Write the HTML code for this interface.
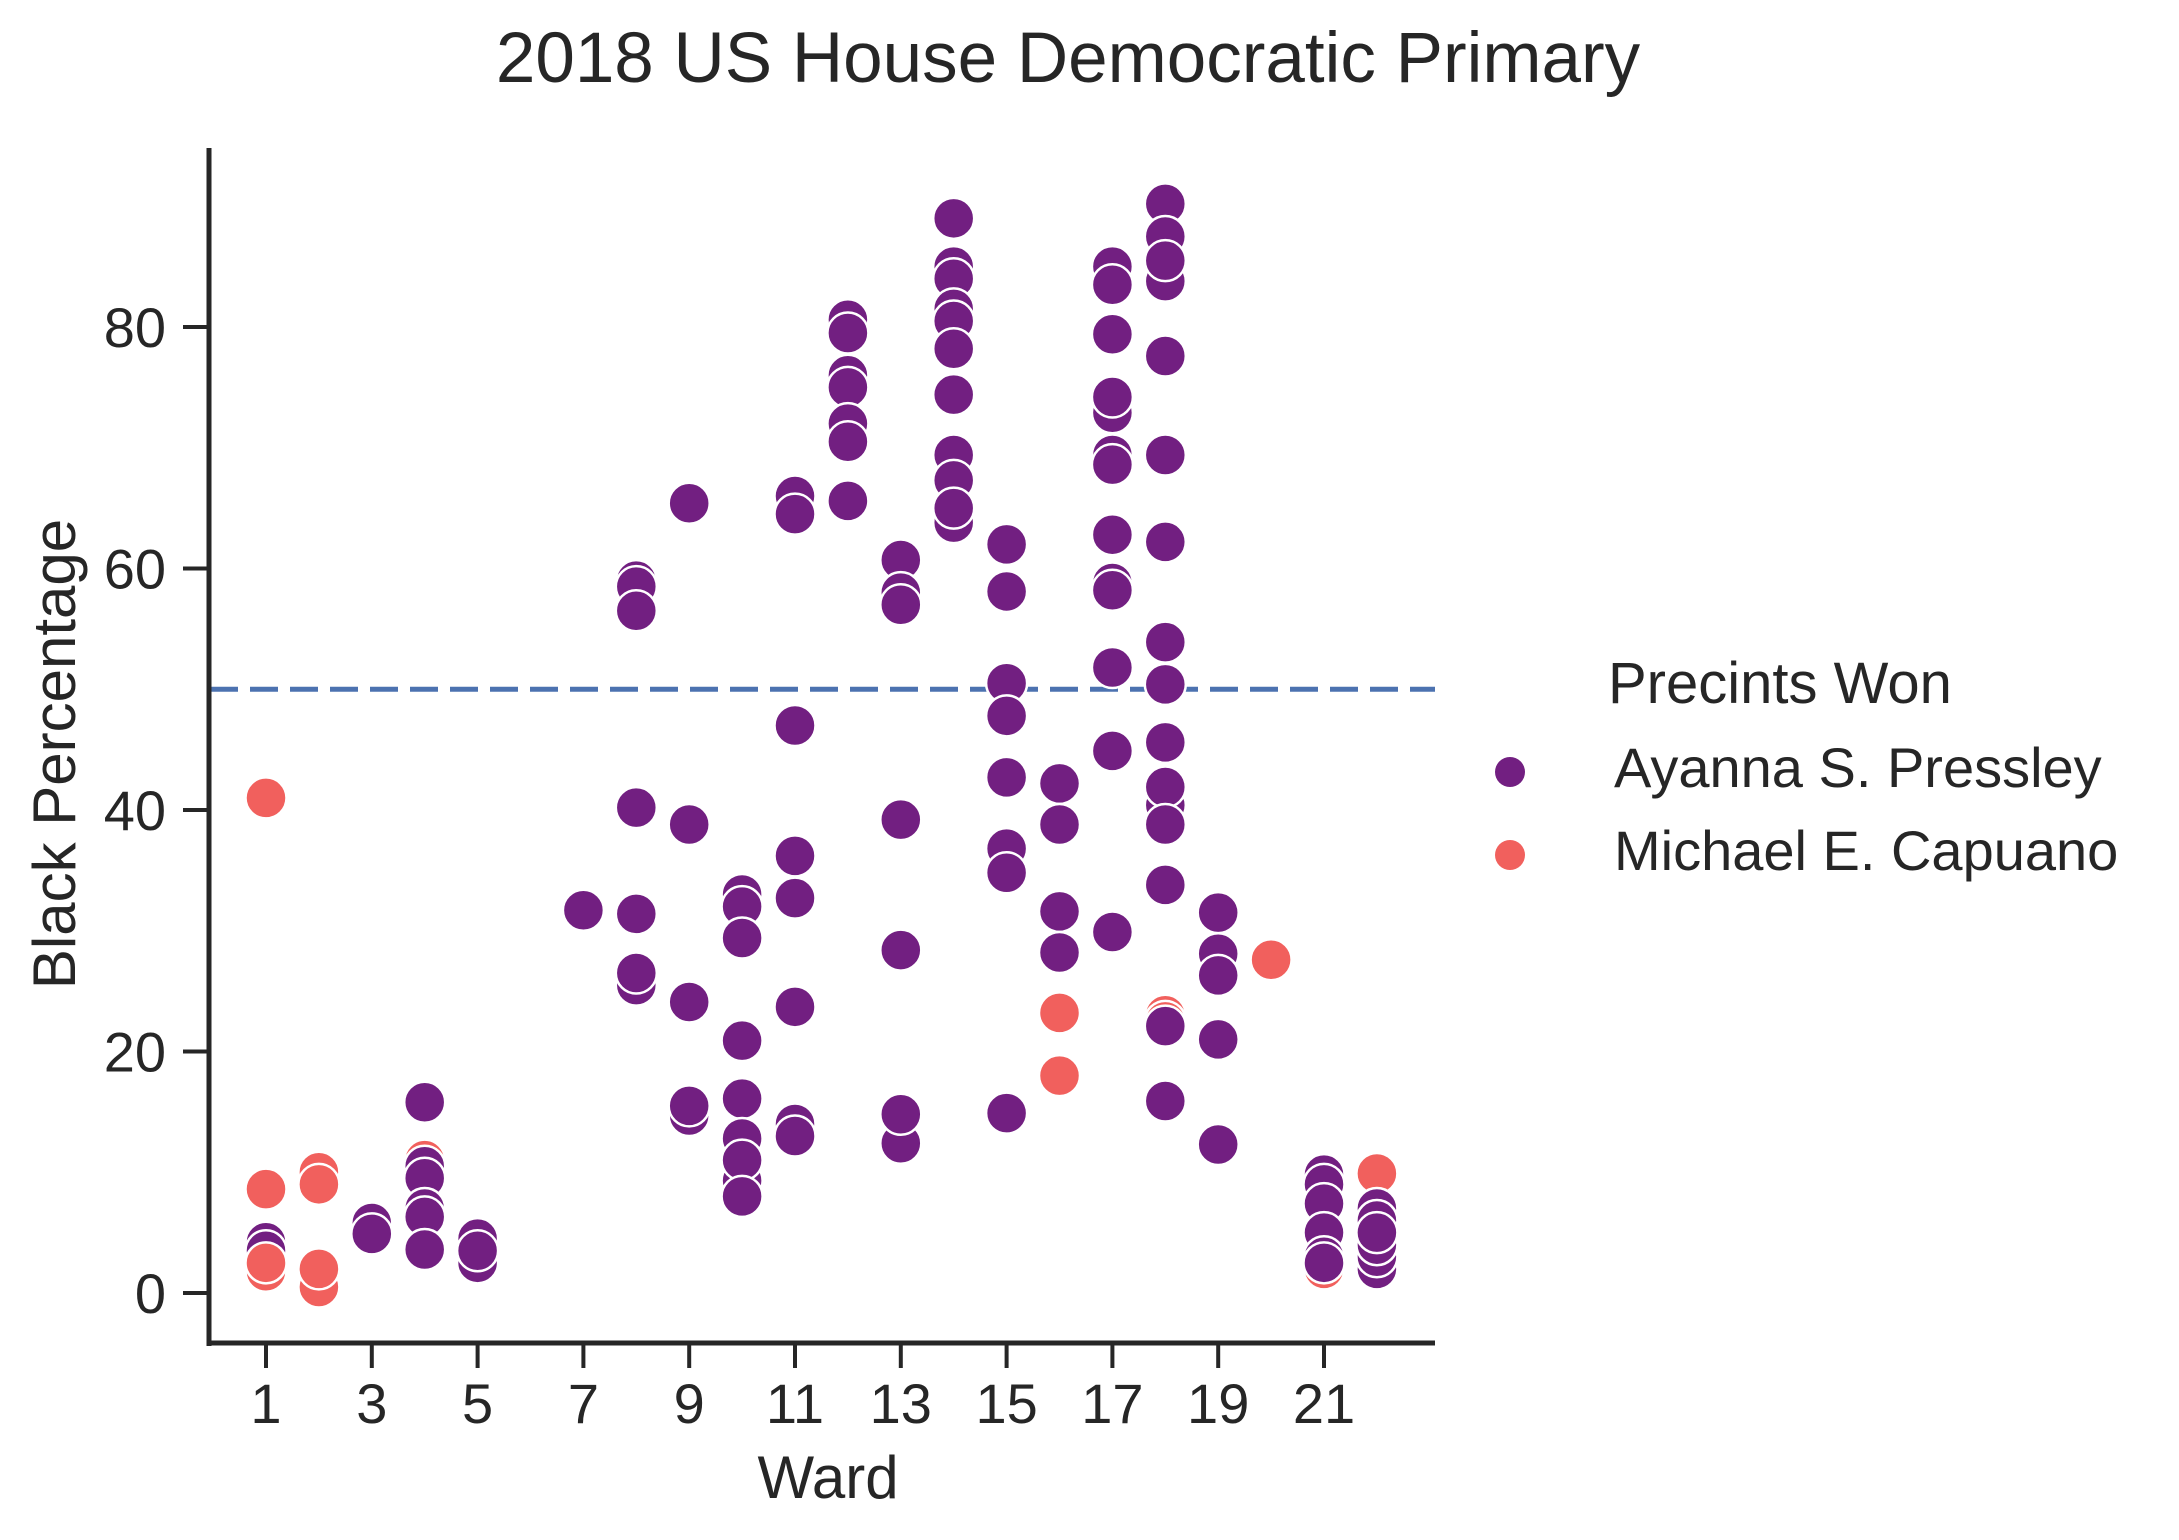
<!DOCTYPE html>
<html><head><meta charset="utf-8"><style>
html,body{margin:0;padding:0;background:#fff}
svg{display:block;font-family:"Liberation Sans",Arial,sans-serif}
</style></head><body>
<svg id="chart" width="2179" height="1540" viewBox="0 0 2179 1540">
<text x="1068" y="82" font-size="71" text-anchor="middle" fill="#262626">2018 US House Democratic Primary</text>
<g id="plot"></g>
<g id="axes"></g>
<text x="828" y="1498" font-size="60" text-anchor="middle" fill="#262626">Ward</text>
<text transform="translate(75,754) rotate(-90)" font-size="60" text-anchor="middle" fill="#262626">Black Percentage</text>
<g>
<text x="1608" y="703" font-size="58" fill="#262626">Precints Won</text>
<g><circle cx="1510" cy="772" r="15" fill="#721f81"/><text x="1614" y="787" font-size="56" fill="#262626">Ayanna S. Pressley</text></g>
<g><circle cx="1510" cy="855" r="15" fill="#f1605d"/><text x="1614" y="870" font-size="56" fill="#262626">Michael E. Capuano</text></g>
</g>
</svg>
<script>
const wards = [1,1,1,1,1,1, 2,2,2,2, 3,3, 4,4,4,4,4,4,4, 5,5,5, 7, 8,8,8,8,8,8,8, 9,9,9,9,9,
 10,10,10,10,10,10,10,10,10, 11,11,11,11,11,11,11,11, 12,12,12,12,12,12,12, 13,13,13,13,13,13,13,
 14,14,14,14,14,14,14,14,14,14,14, 15,15,15,15,15,15,15,15, 16,16,16,16,16,16,
 17,17,17,17,17,17,17,17,17,17,17,17,17, 18,18,18,18,18,18,18,18,18,18,18,18,18,18,18,18,18,18,
 19,19,19,19,19, 20, 21,21,21,21,21,21,21, 22,22,22,22,22,22,22];
const values = [4.2,3.5,41,8.6,1.8,2.5, 10,9,0.5,2, 5.8,4.9, 15.8,11,10.5,9.5,7,6.3,3.6, 4.5,2.5,3.5, 31.7,
 59,58.5,56.5,40.2,31.4,25.5,26.5, 65.4,38.8,24.1,14.7,15.5,
 33,32,29.4,20.9,16.1,12.8,9.3,11,8, 66,64.5,47,36.2,32.7,23.7,14,13, 80.6,79.5,76,75,72,70.5,65.6,
 60.7,58,57,39.2,28.4,12.4,14.8, 89,85,84,81.5,80.5,78.2,74.4,69.4,67.3,63.8,65,
 62,58.1,50.5,47.8,42.7,36.8,34.8,14.9, 42.2,38.8,31.6,28.2,23.2,18,
 85,83.5,79.4,72.9,74.2,69.4,68.6,62.8,58.8,58.2,51.8,44.9,29.9,
 90.2,87.5,83.8,85.5,77.6,69.4,62.2,53.9,50.4,45.6,40.4,41.9,38.8,33.8,23,22.5,22.1,15.9,
 31.5,28.1,26.3,21,12.3, 27.6, 2,9.8,9,7.4,5,3,2.5, 9.9,7,6,2,3,4,5];
const winners = ['P','P','C','C','C','C', 'C','C','C','C', 'P','P', 'P','C','P','P','P','P','P', 'P','P','P', 'P',
 'P','P','P','P','P','P','P', 'P','P','P','P','P',
 'P','P','P','P','P','P','P','P','P', 'P','P','P','P','P','P','P','P', 'P','P','P','P','P','P','P',
 'P','P','P','P','P','P','P', 'P','P','P','P','P','P','P','P','P','P','P',
 'P','P','P','P','P','P','P','P', 'P','P','P','P','C','C',
 'P','P','P','P','P','P','P','P','P','P','P','P','P',
 'P','P','P','P','P','P','P','P','P','P','P','P','P','P','C','C','P','P',
 'P','P','P','P','P', 'C', 'C','P','P','P','P','P','P', 'C','P','P','P','P','P','P'];
const xTicks = [1,3,5,7,9,11,13,15,17,19,21];
const yTicks = [0,20,40,60,80];
const refLine = 50;

const NS='http://www.w3.org/2000/svg';
const xs = w => 266 + (w-1)*52.9;
const ys = v => 1293 - v*12.075;
const plot=document.getElementById('plot'), axes=document.getElementById('axes');
function mk(tag, attrs, parent){const e=document.createElementNS(NS,tag);for(const k in attrs)e.setAttribute(k,attrs[k]);parent.appendChild(e);return e;}

const ref = mk('line',{x1:210,x2:1435,y1:ys(refLine),y2:ys(refLine),stroke:'#4c72b0','stroke-width':5,'stroke-dasharray':'28 12'},plot);



for(let i=0;i<wards.length;i++){
  const c = mk('circle',{cx:xs(wards[i]),cy:ys(values[i]),r:20.5,fill:winners[i]==='P'?'#721f81':'#f1605d',stroke:'#fff','stroke-width':2.5},plot);
  
  
}

const ya = mk('line',{x1:209,x2:209,y1:148,y2:1346,stroke:'#262626','stroke-width':5},axes);


const xa = mk('line',{x1:207,x2:1435,y1:1343,y2:1343,stroke:'#262626','stroke-width':5},axes);



for(const t of xTicks){
  const l = mk('line',{x1:xs(t),x2:xs(t),y1:1343,y2:1368,stroke:'#262626','stroke-width':4},axes);
  
  
  const tx = mk('text',{x:xs(t),y:1423,'font-size':56,'text-anchor':'middle',fill:'#262626'},axes);
  tx.textContent=t;
  
  
}
for(const t of yTicks){
  const l = mk('line',{x1:183,x2:209,y1:ys(t),y2:ys(t),stroke:'#262626','stroke-width':4},axes);
  
  
  const tx = mk('text',{x:166,y:ys(t)+20,'font-size':56,'text-anchor':'end',fill:'#262626'},axes);
  tx.textContent=t;
  
  
}
</script>
</body></html>
